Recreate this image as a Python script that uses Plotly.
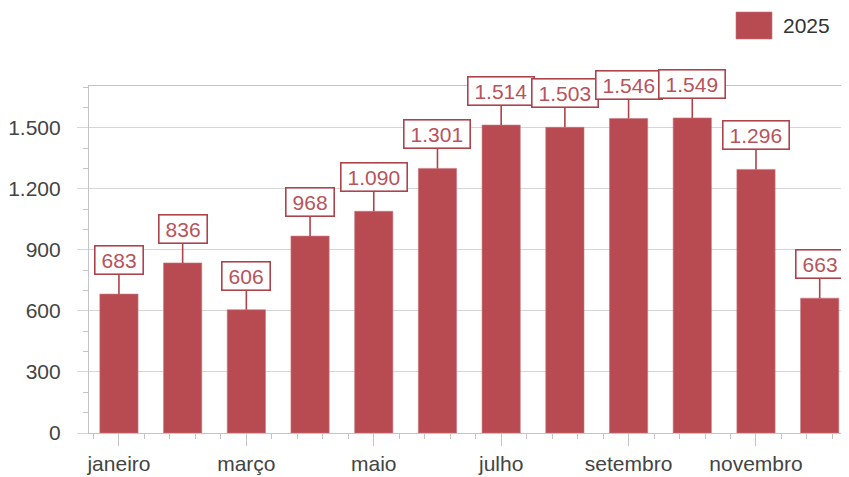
import plotly.graph_objects as go

months = ["janeiro", "fevereiro", "março", "abril", "maio", "junho", "julho",
          "agosto", "setembro", "outubro", "novembro", "dezembro"]
values_2025 = [683, 836, 606, 968, 1090, 1301, 1514, 1503, 1546, 1549, 1296, 663]
series_name = "2025"
y_ticks = [0, 300, 600, 900, 1200, 1500]

BAR = "#b84b52"
BORDER = "#ad434b"
TXT = "#b8535b"
GRID = "#d6d6d6"
AXIS = "#c4c4c4"
FONT = "Liberation Sans, Arial, sans-serif"
FS = 21

# the page body adds an 8px offset, so the figure is laid out 8px smaller
OFF = 8
W, H = 849 - OFF, 477 - OFF
L, R, T, B = 89 - OFF, 0, 86 - OFF, 44
pw, ph = W - L - R, H - T - B

x = list(range(len(months)))

fig = go.Figure()
fig.add_trace(go.Bar(
    x=x, y=values_2025, width=0.6, name=series_name,
    marker=dict(color=BAR, line=dict(color="#c7777d", width=0.6)),
    showlegend=False, hoverinfo="skip"))

def fmt(v):
    return f"{v:,}".replace(",", ".")

for xi, v in zip(x, values_2025):
    t = fmt(v)
    tw = sum(0.278 if c == "." else 0.556 for c in t) * FS
    fig.add_annotation(
        x=xi, y=v, xref="x", yref="y", text=t,
        showarrow=True, arrowhead=0, arrowwidth=1.6, arrowcolor=BORDER,
        ax=0, ay=-34, standoff=0, startstandoff=0,
        bordercolor=BORDER, borderwidth=1.6, borderpad=2, bgcolor="white",
        width=tw + 8, align="center",
        font=dict(family=FONT, size=FS, color=TXT))

# legend drawn in paper coordinates (reference pixel positions minus offset)
fig.add_shape(type="rect", xref="paper", yref="paper",
              x0=(736 - OFF - L) / pw, x1=(772 - OFF - L) / pw,
              y0=(H - B - (39 - OFF)) / ph, y1=(H - B - (12 - OFF)) / ph,
              fillcolor=BAR, line=dict(color="#c7777d", width=0.6))
fig.add_annotation(xref="paper", yref="paper", x=(781 - OFF - L) / pw,
                   y=(H - B - (25.5 - OFF)) / ph, xanchor="left", yanchor="middle",
                   text=series_name, showarrow=False,
                   font=dict(family=FONT, size=FS, color="#333333"))

fig.update_layout(
    width=W, height=H,
    margin=dict(l=L, r=R, t=T, b=B, pad=0),
    plot_bgcolor="white", paper_bgcolor="white",
    separators=",.",
    font=dict(family=FONT, size=FS, color="#444444"),
    xaxis=dict(
        range=[-0.47, 11.46], tickmode="array", tickvals=x[::2],
        ticktext=months[::2], ticks="outside", ticklen=12, tickcolor=AXIS,
        showline=True, linecolor=AXIS, linewidth=1.2, mirror=True,
        showgrid=False, zeroline=False,
        minor=dict(tickmode="linear", tick0=0, dtick=0.4, ticks="outside",
                   ticklen=5, tickcolor=AXIS),
        tickfont=dict(family=FONT, size=FS, color="#444444")),
    yaxis=dict(
        range=[0, 1706], tickmode="array", tickvals=y_ticks, tickformat=",d",
        ticks="outside", ticklen=11, tickcolor=GRID,
        showline=True, linecolor=AXIS, linewidth=1.2,
        showgrid=True, gridcolor=GRID, gridwidth=1.2, zeroline=False,
        minor=dict(tickmode="linear", tick0=0, dtick=100, ticks="outside",
                   ticklen=5, tickcolor=AXIS, showgrid=False),
        ticklabelstandoff=12,
        tickfont=dict(family=FONT, size=FS, color="#444444")),
)

fig.write_html("out.html")
